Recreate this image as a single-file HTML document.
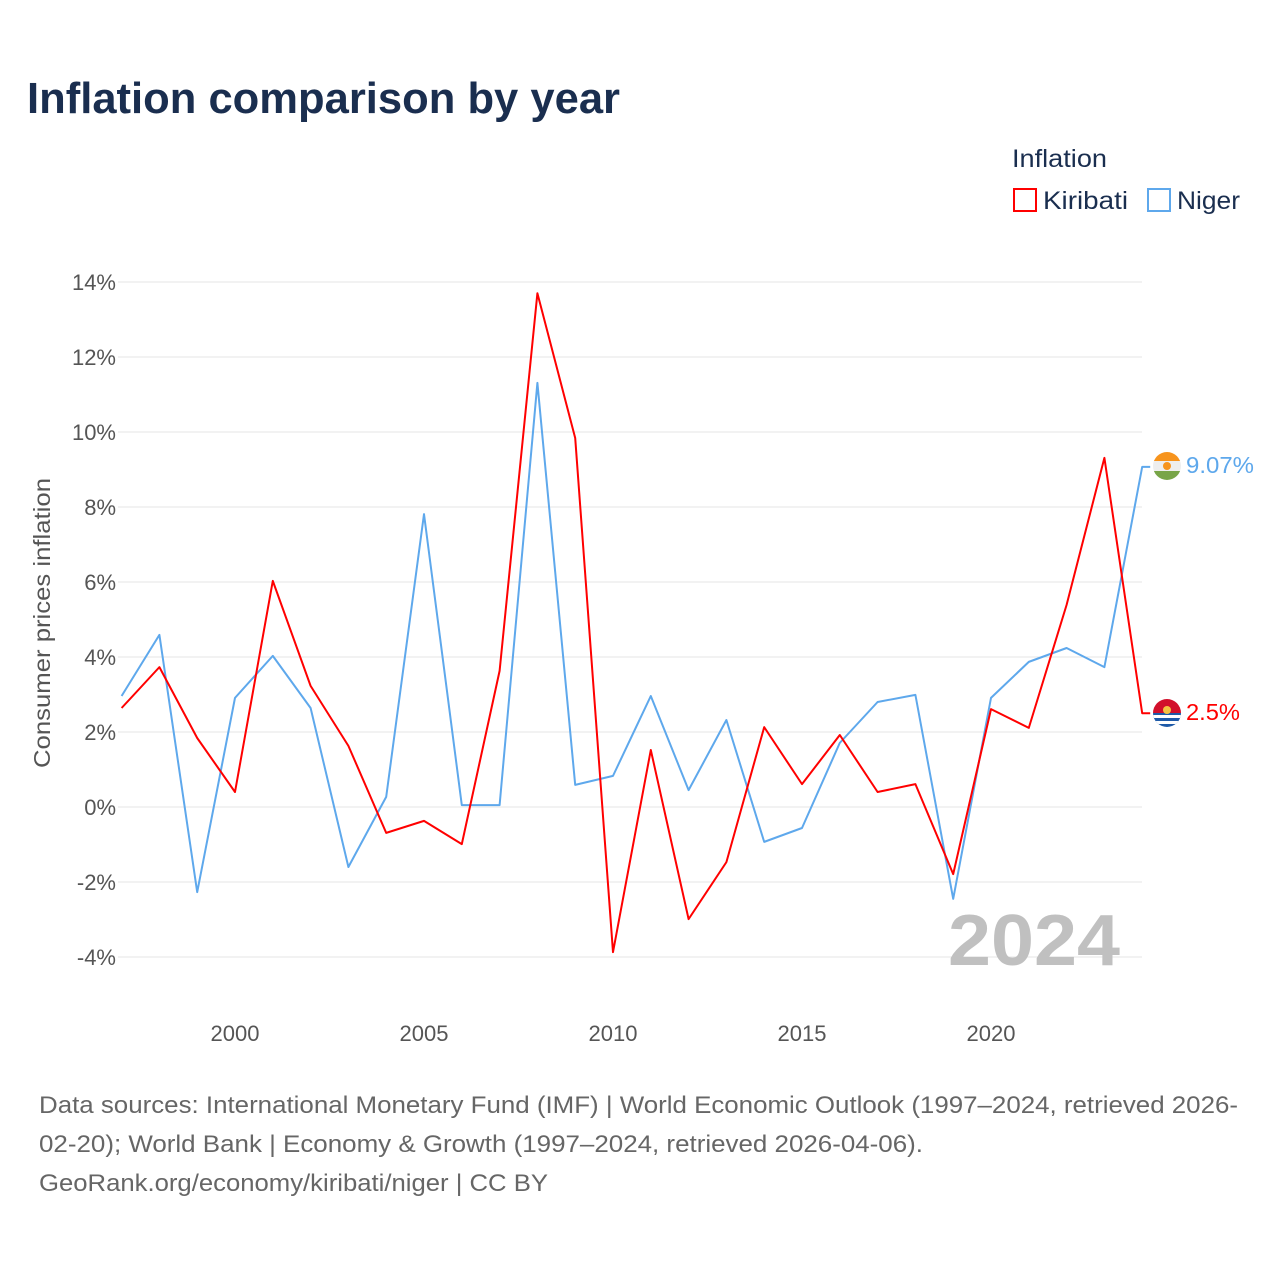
<!DOCTYPE html>
<html><head><meta charset="utf-8">
<style>
body{margin:0;background:#fff;font-family:"Liberation Sans",sans-serif;}
svg text{font-family:"Liberation Sans",sans-serif;}
</style></head>
<body>
<svg id="chart" width="1280" height="1280" xmlns="http://www.w3.org/2000/svg">
<rect width="1280" height="1280" fill="#fff"/>
<text x="27" y="113" font-size="44" font-weight="bold" fill="#1a2e4f" textLength="593" lengthAdjust="spacingAndGlyphs">Inflation comparison by year</text>
<text x="1012" y="167" font-size="25" fill="#1a2e4f" textLength="95" lengthAdjust="spacingAndGlyphs">Inflation</text>
<g>
<rect x="1014" y="189" width="22" height="22" fill="none" stroke="#ff0000" stroke-width="2"/>
<text x="1043" y="209" font-size="25" fill="#1a2e4f" textLength="85" lengthAdjust="spacingAndGlyphs">Kiribati</text></g>
<g>
<rect x="1148" y="189" width="22" height="22" fill="none" stroke="#5ea8ec" stroke-width="2"/>
<text x="1177" y="209" font-size="25" fill="#1a2e4f" textLength="63" lengthAdjust="spacingAndGlyphs">Niger</text></g>
<g id="grid"></g><g id="yticks"></g><g id="xticks"></g>
<text x="50" y="623" font-size="23" fill="#555" transform="rotate(-90 50 623)" text-anchor="middle" textLength="290" lengthAdjust="spacingAndGlyphs">Consumer prices inflation</text>
<text x="1120" y="965" font-size="72" font-weight="bold" fill="#c0c0c0" text-anchor="end" textLength="172" lengthAdjust="spacingAndGlyphs">2024</text>
<g id="lines"></g>
<g>
<clipPath id="cn"><circle cx="1167" cy="466" r="14"/></clipPath>
<g clip-path="url(#cn)"><rect x="1150" y="450" width="34" height="11" fill="#f7941d"/><rect x="1150" y="461" width="34" height="10" fill="#eee"/><rect x="1150" y="471" width="34" height="12" fill="#78a548"/><circle cx="1167" cy="466" r="4" fill="#f7941d"/></g></g>
<g>
<clipPath id="ck"><circle cx="1167" cy="713" r="14"/></clipPath>
<g clip-path="url(#ck)"><rect x="1150" y="697" width="34" height="16" fill="#d2102b"/><rect x="1150" y="713" width="34" height="16" fill="#1e5aa8"/><rect x="1150" y="715" width="34" height="3" fill="#fff"/><rect x="1150" y="721" width="34" height="3" fill="#fff"/><circle cx="1167" cy="710" r="4" fill="#f5c342"/></g></g>
<text x="1186" y="473" font-size="23" fill="#5ea8ec" textLength="68" lengthAdjust="spacingAndGlyphs">9.07%</text>
<text x="1186" y="720" font-size="23" fill="#ff0000" textLength="54" lengthAdjust="spacingAndGlyphs">2.5%</text>
<text font-size="24" fill="#666">
<tspan x="39" y="1113" textLength="1199" lengthAdjust="spacingAndGlyphs">Data sources: International Monetary Fund (IMF) | World Economic Outlook (1997–2024, retrieved 2026-</tspan>
<tspan x="39" y="1152" textLength="884" lengthAdjust="spacingAndGlyphs">02-20); World Bank | Economy &amp; Growth (1997–2024, retrieved 2026-04-06).</tspan>
<tspan x="39" y="1191" textLength="509" lengthAdjust="spacingAndGlyphs">GeoRank.org/economy/kiribati/niger | CC BY</tspan></text>
</svg>
<script>
const years=[1997,1998,1999,2000,2001,2002,2003,2004,2005,2006,2007,2008,2009,2010,2011,2012,2013,2014,2015,2016,2017,2018,2019,2020,2021,2022,2023,2024];
const kiribati=[2.64,3.73,1.84,0.4,6.03,3.23,1.63,-0.69,-0.37,-0.99,3.63,13.7,9.84,-3.87,1.52,-2.99,-1.47,2.13,0.61,1.92,0.4,0.61,-1.79,2.61,2.11,5.39,9.31,2.5];
const niger=[2.96,4.59,-2.27,2.91,4.03,2.64,-1.6,0.27,7.81,0.05,0.05,11.31,0.59,0.83,2.96,0.45,2.32,-0.93,-0.56,1.71,2.8,2.99,-2.45,2.91,3.87,4.24,3.73,9.07];
const yTicks=[-4,-2,0,2,4,6,8,10,12,14];
const xTicks=[2000,2005,2010,2015,2020];
const NS="http://www.w3.org/2000/svg";
const X=y=>121.6+(y-1997)*37.8;
const Y=v=>807-v*37.5;
function mk(t,a,p){const e=document.createElementNS(NS,t);for(const k in a)e.setAttribute(k,a[k]);document.getElementById(p).appendChild(e);return e;}
yTicks.forEach(v=>{
const l=mk('line',{x1:118,x2:1142,y1:Y(v),y2:Y(v),stroke:'#e6e6e6','stroke-width':1},'grid');


const t=mk('text',{x:116,y:Y(v)+8,'font-size':22,fill:'#555','text-anchor':'end'},'yticks');
t.textContent=v+'%';


});
xTicks.forEach(v=>{
const t=mk('text',{x:X(v),y:1041,'font-size':22,fill:'#555','text-anchor':'middle'},'xticks');
t.textContent=v;


});
function series(vals,color,name,ly){
let d=vals.map((v,i)=>(i?'L':'M')+X(years[i])+','+Y(v)).join(' ');
d+=' L'+(X(2024)+8)+','+ly;
const p=mk('path',{d:d,fill:'none',stroke:color,'stroke-width':2,'stroke-linejoin':'round'},'lines');


}
series(niger,'#5ea8ec','niger-line',Y(niger[niger.length-1]));
series(kiribati,'#ff0000','kiribati-line',Y(kiribati[kiribati.length-1]));
</script>
</body></html>
